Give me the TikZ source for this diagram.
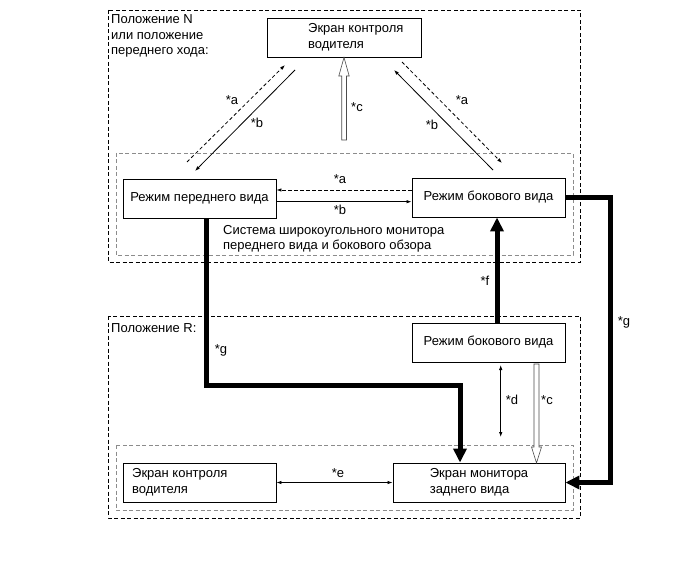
\documentclass[tikz,border=0pt]{standalone}
\usepackage{fontspec}
\setmainfont{Liberation Sans}
\usetikzlibrary{arrows.meta,calc}
\begin{document}
\begin{tikzpicture}[x=1pt,y=-1pt,
  font=\fontsize{13}{15.5}\selectfont,
  box/.style={draw, line width=0.9pt, inner sep=0pt, minimum width=153pt, minimum height=39pt},
  txt/.style={inner sep=0pt, align=left},
  outer/.style={draw, line width=0.8pt, dash pattern=on 4pt off 2.5pt},
  inner/.style={draw=black!45, line width=0.5pt, dash pattern=on 4pt off 2.5pt},
  thinarr/.style={line width=0.8pt, -{Latex[length=5pt,width=3.5pt]}},
  dasharr/.style={thinarr, dash pattern=on 3.5pt off 2.5pt},
  bothar/.style={line width=0.8pt, {Latex[length=5pt,width=3.5pt]}-{Latex[length=5pt,width=3.5pt]}},
  thickarr/.style={line width=5pt, -{Triangle[length=14pt,width=13pt]}},
  hollow/.style={draw=black!70, line width=0.6pt, fill=white},
  lbl/.style={inner sep=0pt}
]
\useasboundingbox (0,0) rectangle (690,564);
\fill[white] (0,0) rectangle (690,564);

% outer and inner frames
\draw[outer] (108,10) rectangle (580,262);
\draw[inner] (116,153) rectangle (573,255);
\draw[outer] (108,316) rectangle (580,518);
\draw[inner] (116,445) rectangle (573,510);

% boxes
\node[box, minimum width=154pt] (top) at (344,37.5) {};
\node[txt, anchor=west] (toptxt) at (308,37.5) {Экран контроля\\водителя};
\node[box] (front) at (199.5,198.5) {Режим переднего вида};
\node[box] (sideN) at (488.5,197.5) {Режим бокового вида};
\node[box] (sideR) at (488.5,342.5) {Режим бокового вида};
\node[box, minimum width=172pt, align=left] (rear) at (479,482.5) {Экран монитора\\заднего вида};
\node[box] (drv) at (199.5,482.5) {};
\node[txt, anchor=west] (drvtxt) at (132,482.5) {Экран контроля\\водителя};

% frame texts
\node[txt, anchor=north west] (posN) at (111,14.5) {Положение N\\или положение\\переднего хода:};
\node[txt, anchor=north west] (sys) at (223,225) {Система широкоугольного монитора\\переднего вида и бокового обзора};
\node[txt, anchor=base west] (posR) at (111,332) {Положение R:};

% diagonal arrows, left
\coordinate (la1) at (187,162);
\coordinate (la2) at (285,65);
\coordinate (lb1) at (295,70);
\coordinate (lb2) at (195,171);
\draw[dasharr] (la1) -- (la2);
\draw[thinarr] (lb1) -- (lb2);
\node[lbl] (lA) at (232,100) {*a};
\node[lbl] (lB) at (257,123) {*b};

% diagonal arrows, right
\coordinate (rb1) at (493,170);
\coordinate (rb2) at (394,70);
\coordinate (ra1) at (402,62);
\coordinate (ra2) at (502,163);
\draw[thinarr] (rb1) -- (rb2);
\draw[dasharr] (ra1) -- (ra2);
\node[lbl] (rA) at (462,100) {*a};
\node[lbl] (rB) at (432,125) {*b};

% horizontal arrows
\coordinate (ha1) at ($(sideN.west)+(0,-7.5)$);
\coordinate (hb1) at ($(front.east)+(0,3.2)$);
\draw[dasharr] (ha1) -- (front.east |- ha1);
\draw[thinarr] (hb1) -- (sideN.west |- hb1);
\node[lbl] (hA) at (340,179) {*a};
\node[lbl] (hB) at (340,210) {*b};

% hollow arrow *c top
\draw[hollow] (341.7,140) -- (341.7,76) -- (338.8,76) -- (top.south) -- (349.2,76) -- (346.5,76) -- (346.5,140) -- cycle;
\node[lbl] (cTop) at (357,107) {*c};

% hollow arrow *c bottom
\draw[hollow] (534,364) -- (534,447) -- (531.5,447) -- (536.5,463) -- (541.5,447) -- (539,447) -- (539,364) -- cycle;
\node[lbl] (cBot) at (547,400) {*c};

% *d
\coordinate (d1) at (500.7,365);
\coordinate (d2) at (500.7,437);
\draw[bothar] (d1) -- (d2);
\node[lbl] (dL) at (512,400) {*d};

% *e
\draw[bothar] (drv.east) -- (rear.west);
\node[lbl] (eL) at (338,473) {*e};

% *f
\coordinate (f1) at ($(sideR.north)+(8.5,0)$);
\draw[thickarr] (f1) -- (f1 |- sideN.south);
\node[lbl] (fL) at (485,281) {*f};

% *g left
\coordinate (g1) at (206,385);
\coordinate (g2) at (460,385);
\draw[thickarr, line join=miter] (front.south -| g1) -- (g1) -- (g2) -- (g2 |- rear.north);
\node[lbl] (gL) at (221,350) {*g};

% *g right
\coordinate (g3) at (610,197.5);
\coordinate (g4) at (610,482.5);
\draw[thickarr, line join=miter] (sideN.east) -- (g3) -- (g4) -- (rear.east);
\node[lbl] (gR) at (624,322) {*g};
\end{tikzpicture}
\end{document}
